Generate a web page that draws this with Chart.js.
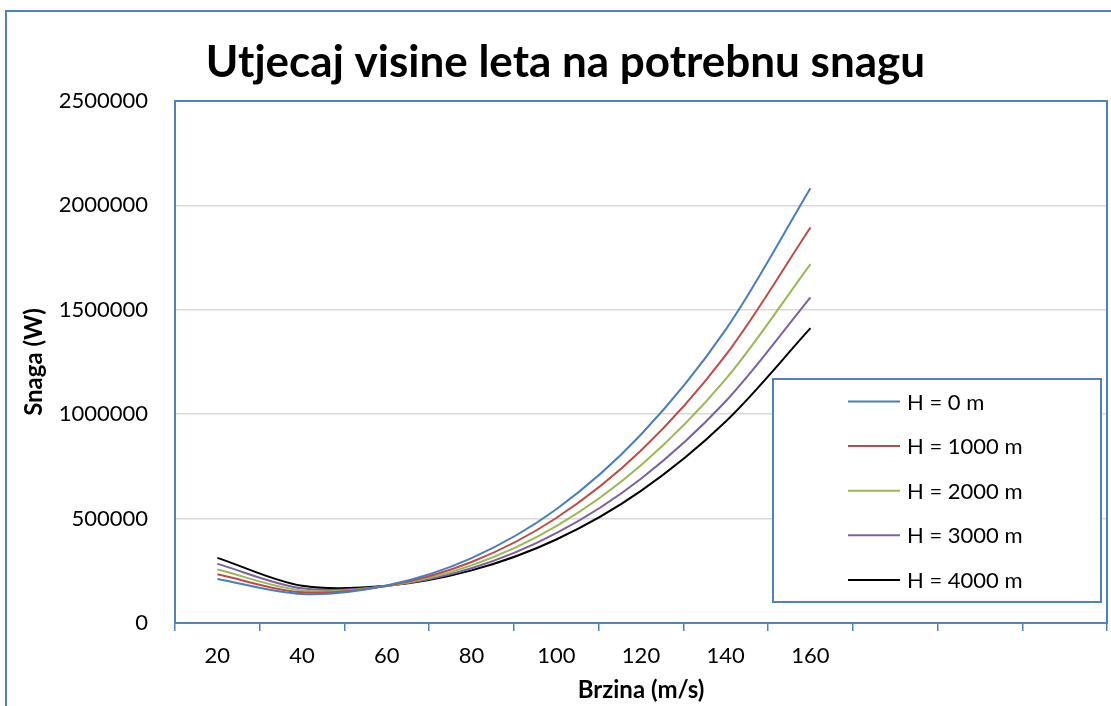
<!DOCTYPE html>
<html>
<head>
<meta charset="utf-8">
<title>Utjecaj visine leta na potrebnu snagu</title>
<script src="https://cdn.jsdelivr.net/npm/chart.js@4.4.0/dist/chart.umd.min.js"></script>
<style>
  html, body { margin: 0; padding: 0; background: #fff; }
  canvas { display: block; }
</style>
</head>
<body>
<canvas id="myChart" width="1111" height="706"></canvas>
<script>
// brzina (m/s) - zadnje tri kategorije su prazne, kao u excelu
const speeds = ['20', '40', '60', '80', '100', '120', '140', '160', '', '', ''];
const yTicks = [0, 500000, 1000000, 1500000, 2000000, 2500000];

// potrebna snaga (W) za svaku visinu
const h0    = [211000, 139000, 180000, 311000, 545000, 903000, 1405000, 2082000];
const h1000 = [233000, 147000, 178000, 292000, 503000, 826000, 1283000, 1894000];
const h2000 = [256000, 156000, 177000, 276000, 464000, 756000, 1168000, 1719000];
const h3000 = [283000, 166000, 177000, 262000, 430000, 691000, 1062000, 1560000];
const h4000 = [312000, 178000, 178000, 252000, 400000, 633000, 965000, 1412000];

const labels = ['H = 0 m', 'H = 1000 m', 'H = 2000 m', 'H = 3000 m', 'H = 4000 m'];
const colors = ['#4A7EBB', '#BE4B48', '#98B954', '#7D60A0', '#000000'];
const series = [h0, h1000, h2000, h3000, h4000];

const blue = '#4F81BD';

Chart.defaults.font.family = 'Lato, "Open Sans", sans-serif';
Chart.defaults.color = '#000';

const frame = {
  id: 'frame',
  beforeDraw(chart) {
    const c = chart.ctx;
    c.save();
    c.fillStyle = '#fff';
    c.fillRect(0, 0, chart.width, chart.height);
    c.restore();
  },
  afterDraw(chart) {
    const c = chart.ctx;
    const a = chart.chartArea;
    c.save();
    c.strokeStyle = blue;
    c.lineWidth = 2;
    // okvir cijelog grafa
    c.beginPath();
    c.moveTo(6, chart.height);
    c.lineTo(6, 11);
    c.lineTo(chart.width, 11);
    c.stroke();
    // okvir podrucja crtanja
    c.strokeRect(a.left, a.top, a.right - a.left, a.bottom - a.top);

    // naslov
    c.fillStyle = '#000';
    c.font = 'bold 44px Lato, "Open Sans", sans-serif';
    c.textAlign = 'center';
    c.textBaseline = 'alphabetic';
    c.fillText('Utjecaj visine leta na potrebnu snagu', 565.5, 77);

    // legenda unutar grafa
    c.fillStyle = '#fff';
    c.fillRect(773, 379, 328, 223);
    c.strokeRect(773, 379, 328, 223);
    c.font = '22px Lato, "Open Sans", sans-serif';
    c.textAlign = 'left';
    c.textBaseline = 'middle';
    chart.data.datasets.forEach((ds, i) => {
      const y = 401.5 + i * 44.6;
      c.strokeStyle = ds.borderColor;
      c.lineWidth = 2;
      c.beginPath();
      c.moveTo(848, y);
      c.lineTo(900, y);
      c.stroke();
      c.fillStyle = '#000';
      c.fillText(ds.label, 907, y + 1);
    });
    c.restore();
  }
};

const ctx = document.getElementById('myChart');

new Chart(ctx, {
  type: 'line',
  data: {
    labels: speeds,
    datasets: series.map((d, i) => ({
      label: labels[i],
      data: d,
      borderColor: colors[i],
      backgroundColor: colors[i],
      borderWidth: 2,
      pointRadius: 0,
      tension: 0.33,
      fill: false
    }))
  },
  options: {
    responsive: false,
    animation: false,
    layout: { padding: { left: 0, right: 4, top: 101, bottom: 0 } },
    plugins: {
      legend: { display: false },
      title: { display: false },
      tooltip: { enabled: false }
    },
    scales: {
      x: {
        offset: true,
        grid: {
          offset: true,
          drawOnChartArea: false,
          drawTicks: true,
          tickLength: 8,
          color: blue,
          lineWidth: 1.5
        },
        border: { display: false },
        ticks: {
          autoSkip: false,
          maxRotation: 0,
          padding: 12,
          font: { size: 22 }
        },
        title: {
          display: true,
          text: 'Brzina (m/s)',
          font: { size: 24, weight: 'bold' },
          padding: { top: 0, bottom: 1 }
        },
        afterFit(s) { s.height = 83; }
      },
      y: {
        min: 0,
        max: 2500000,
        grid: {
          color: '#D9D9D9',
          lineWidth: 1.5,
          drawTicks: false
        },
        border: { display: false },
        ticks: {
          padding: 27,
          font: { size: 22 },
          callback: v => String(v)
        },
        afterBuildTicks(s) { s.ticks = yTicks.map(v => ({ value: v })); },
        title: {
          display: true,
          text: 'Snaga (W)',
          font: { size: 24, weight: 'bold' },
          padding: { top: 20, bottom: 0 }
        },
        afterFit(s) { s.width = 175; }
      }
    }
  },
  plugins: [frame]
});
</script>
</body>
</html>
